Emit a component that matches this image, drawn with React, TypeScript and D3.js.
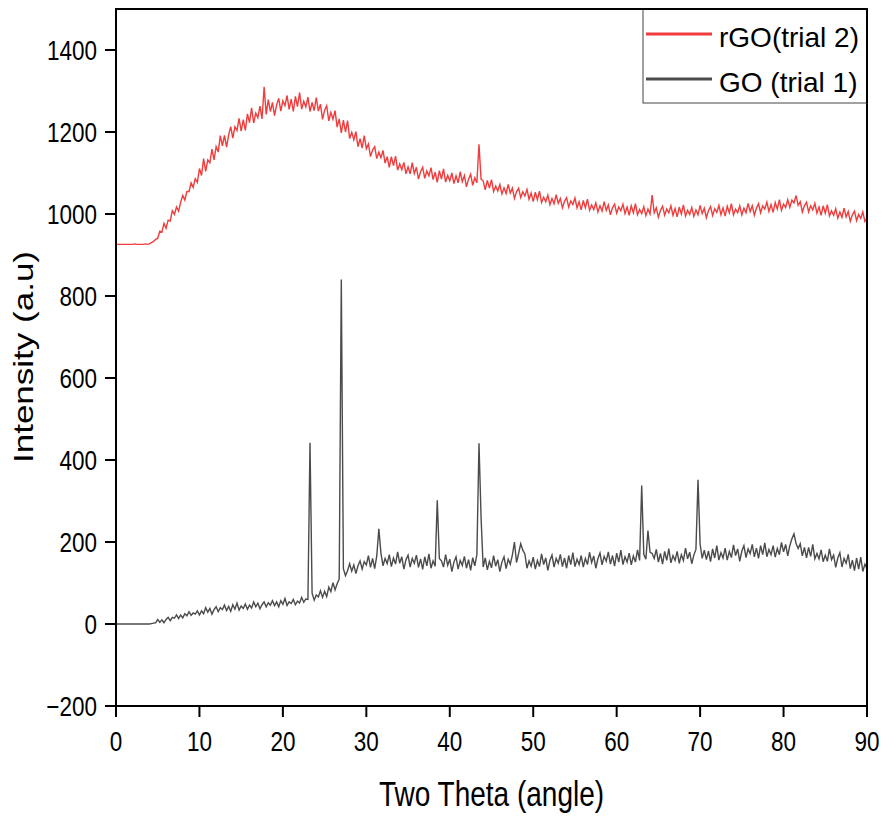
import React from "react";
import * as d3 from "d3";

// Sampling grid of the scans (degrees 2θ)
const thetaStart = 0;
const thetaStep = 0.25;

// GO (trial 1) intensity, one value per 0.25° from 0 to 90 (4 values per degree)
const goIntensity: number[] = [
  0, 0, 0, 0, 0, 0, 0, 0, 0, 0, 0, 0, 0, 0, 0, 0,
  0, 1, 2, 3, 11, 4, 10, 3, 11, 16, 8, 16, 14, 22, 13, 22,
  15, 25, 20, 30, 21, 27, 24, 32, 22, 32, 25, 40, 29, 38, 24, 35,
  42, 30, 40, 35, 46, 33, 43, 31, 47, 36, 51, 34, 44, 38, 49, 36,
  46, 39, 54, 42, 51, 37, 47, 54, 42, 52, 46, 57, 45, 54, 42, 57,
  48, 62, 45, 54, 50, 60, 47, 56, 51, 65, 53, 61, 60, 442, 75, 58,
  71, 66, 81, 65, 80, 67, 90, 79, 101, 83, 98, 110, 840, 135, 118, 130,
  147, 129, 144, 123, 142, 154, 134, 152, 144, 167, 138, 160, 135, 166, 232, 173,
  142, 160, 147, 169, 140, 161, 146, 176, 148, 164, 134, 157, 168, 139, 160, 148,
  168, 138, 159, 133, 164, 142, 171, 136, 154, 141, 302, 160, 154, 139, 169, 143,
  158, 128, 151, 164, 134, 155, 143, 165, 136, 157, 131, 162, 142, 170, 441, 260,
  139, 161, 132, 153, 137, 167, 141, 157, 128, 151, 164, 135, 158, 146, 168, 200,
  150, 172, 196, 180, 171, 136, 154, 141, 163, 134, 155, 140, 171, 145, 161, 131,
  155, 168, 139, 160, 148, 170, 140, 161, 136, 167, 145, 174, 140, 158, 145, 167,
  139, 160, 145, 175, 150, 166, 136, 159, 173, 144, 165, 153, 176, 146, 167, 141,
  173, 151, 180, 145, 164, 151, 173, 144, 166, 151, 181, 155, 338, 170, 158, 228,
  175, 172, 160, 182, 151, 172, 146, 177, 155, 184, 149, 167, 155, 177, 148, 169,
  155, 185, 159, 175, 147, 168, 182, 352, 195, 160, 180, 157, 178, 152, 183, 161,
  191, 156, 174, 161, 185, 156, 177, 162, 193, 167, 183, 153, 178, 191, 162, 183,
  172, 194, 164, 185, 160, 191, 169, 198, 164, 182, 169, 191, 163, 184, 169, 199,
  176, 194, 166, 191, 208, 220, 196, 184, 196, 166, 187, 161, 187, 165, 194, 159,
  172, 159, 181, 152, 168, 153, 183, 157, 168, 138, 161, 174, 139, 160, 148, 170,
  135, 156, 130, 161, 134, 163, 128, 146, 135,
];

// rGO (trial 2) intensity, one value per 0.25° from 0 to 90 (4 values per degree)
const rgoIntensity: number[] = [
  926, 926, 926, 926, 926, 926, 926, 926, 926, 927, 926, 926, 926, 926, 927, 926,
  927, 930, 933, 938, 941, 958, 956, 977, 965, 985, 983, 1008, 999, 1017, 1007, 1029,
  1045, 1034, 1055, 1055, 1076, 1065, 1086, 1077, 1111, 1094, 1135, 1104, 1132, 1125, 1158, 1132,
  1164, 1151, 1191, 1166, 1192, 1163, 1193, 1213, 1185, 1213, 1204, 1233, 1202, 1230, 1204, 1244,
  1223, 1259, 1222, 1246, 1235, 1263, 1232, 1310, 1243, 1279, 1250, 1272, 1240, 1266, 1282, 1251,
  1276, 1264, 1289, 1255, 1280, 1250, 1287, 1262, 1296, 1256, 1275, 1261, 1285, 1250, 1272, 1252,
  1284, 1251, 1268, 1231, 1253, 1264, 1227, 1248, 1231, 1252, 1212, 1232, 1198, 1229, 1200, 1228,
  1184, 1199, 1181, 1201, 1164, 1184, 1161, 1191, 1159, 1171, 1140, 1156, 1164, 1135, 1151, 1137,
  1155, 1124, 1140, 1114, 1140, 1118, 1141, 1107, 1122, 1108, 1126, 1098, 1115, 1098, 1125, 1099,
  1114, 1085, 1103, 1114, 1087, 1105, 1093, 1113, 1084, 1102, 1077, 1106, 1085, 1110, 1078, 1094,
  1081, 1100, 1074, 1093, 1076, 1103, 1079, 1094, 1066, 1085, 1097, 1070, 1088, 1076, 1170, 1085,
  1081, 1059, 1082, 1063, 1084, 1055, 1068, 1056, 1072, 1049, 1064, 1050, 1072, 1051, 1063, 1038,
  1054, 1063, 1040, 1054, 1044, 1060, 1036, 1051, 1030, 1053, 1035, 1056, 1028, 1041, 1030, 1046,
  1023, 1038, 1025, 1047, 1026, 1038, 1015, 1031, 1040, 1017, 1032, 1023, 1039, 1015, 1030, 1010,
  1033, 1015, 1036, 1009, 1022, 1011, 1027, 1005, 1020, 1007, 1030, 1009, 1022, 998, 1015, 1024,
  1002, 1017, 1008, 1024, 1001, 1017, 997, 1020, 1003, 1025, 998, 1011, 1001, 1018, 996, 1012,
  1000, 1046, 1003, 1015, 992, 1009, 1019, 997, 1012, 1003, 1020, 997, 1013, 993, 1017, 1000,
  1022, 995, 1009, 999, 1016, 994, 1010, 998, 1021, 1001, 1014, 991, 1008, 1018, 996, 1013,
  1004, 1021, 998, 1015, 995, 1019, 1003, 1025, 998, 1012, 1003, 1020, 998, 1014, 1003, 1026,
  1006, 1020, 997, 1014, 1025, 1003, 1020, 1012, 1029, 1006, 1023, 1004, 1028, 1012, 1035, 1009,
  1024, 1016, 1035, 1016, 1034, 1027, 1045, 1021, 1030, 1005, 1020, 1029, 1005, 1020, 1010, 1026,
  1002, 1017, 997, 1020, 1002, 1023, 995, 1008, 997, 1013, 990, 1005, 992, 1014, 993, 1006,
  982, 998, 1007, 984, 999, 989, 1005, 982, 990,
];

const xTicks = [0, 10, 20, 30, 40, 50, 60, 70, 80, 90];
const yTicks = [-200, 0, 200, 400, 600, 800, 1000, 1200, 1400];
const seriesNames = ["rGO(trial 2)", "GO (trial 1)"];
const seriesColors = ["#f03c3c", "#4b4b4b"];
const xTitle = "Two Theta (angle)";
const yTitle = "Intensity (a.u)";

const W = 884;
const H = 819;
const left = 116;
const right = 867;
const top = 9;
const bottom = 706;
const FONT = "'Liberation Sans', Arial, sans-serif";

export default function App() {
  const x = d3.scaleLinear().domain([0, 90]).range([left, right]);
  const y = d3.scaleLinear().domain([-200, 1500]).range([bottom, top]);

  const toPoints = (vals: number[]) =>
    vals.map((v, i) => [thetaStart + i * thetaStep, v] as [number, number]);

  const line = d3
    .line<[number, number]>()
    .x((d) => x(d[0]))
    .y((d) => y(d[1]));

  const series = [rgoIntensity, goIntensity];

  return (
    <svg
      width={W}
      height={H}
      style={{ position: "absolute", left: 0, top: 0, background: "#fff" }}
      fontFamily={FONT}
    >
      <rect x={0} y={0} width={W} height={H} fill="#fff" />
      <defs>
        <clipPath id="plotClip">
          <rect x={left} y={top} width={right - left} height={bottom - top} />
        </clipPath>
      </defs>
      <g clipPath="url(#plotClip)">
        {series.map((vals, i) => (
          <path
            key={i}
            d={line(toPoints(vals)) || ""}
            fill="none"
            stroke={seriesColors[i]}
            strokeWidth={1.4}
            strokeLinejoin="miter"
          />
        ))}
      </g>

      {/* frame */}
      <rect
        x={left}
        y={top}
        width={right - left}
        height={bottom - top}
        fill="none"
        stroke="#000"
        strokeWidth={2}
      />

      {/* y ticks */}
      {yTicks.map((t) => (
        <g key={"y" + t}>
          <line x1={left - 11} x2={left} y1={y(t)} y2={y(t)} stroke="#000" strokeWidth={2} />
          <text
            transform={`translate(${left - 19},${y(t) + 10}) scale(1,1.25)`}
            textAnchor="end"
            fontSize={22.5}
            fill="#000"
          >
            {t < 0 ? "\u2212" + Math.abs(t) : String(t)}
          </text>
        </g>
      ))}

      {/* x ticks */}
      {xTicks.map((t) => (
        <g key={"x" + t}>
          <line x1={x(t)} x2={x(t)} y1={bottom} y2={bottom + 11} stroke="#000" strokeWidth={2} />
          <text
            transform={`translate(${x(t)},${bottom + 45}) scale(1,1.25)`}
            textAnchor="middle"
            fontSize={22.5}
            fill="#000"
          >
            {t}
          </text>
        </g>
      ))}

      {/* axis titles */}
      <text
        transform={`translate(${(left + right) / 2},${806}) scale(1,1.25)`}
        textAnchor="middle"
        fontSize={28}
        fill="#000"
      >
        {xTitle}
      </text>
      <text
        transform={`translate(33,${357}) rotate(-90) scale(1.25,1)`}
        textAnchor="middle"
        fontSize={28}
        fill="#000"
      >
        {yTitle}
      </text>

      {/* legend */}
      <rect x={643} y={top} width={right - 643} height={94} fill="#fff" stroke="#444" strokeWidth={1} />
      <line x1={right} x2={right} y1={top} y2={top + 94} stroke="#000" strokeWidth={2} />
      <line x1={left} x2={right} y1={top} y2={top} stroke="#000" strokeWidth={2} />
      {seriesNames.map((name, i) => (
        <g key={name}>
          <line
            x1={646}
            x2={712}
            y1={34 + i * 45}
            y2={34 + i * 45}
            stroke={seriesColors[i]}
            strokeWidth={3}
          />
          <text x={719} y={47 + i * 45} fontSize={28} fill="#000">
            {name}
          </text>
        </g>
      ))}
    </svg>
  );
}
